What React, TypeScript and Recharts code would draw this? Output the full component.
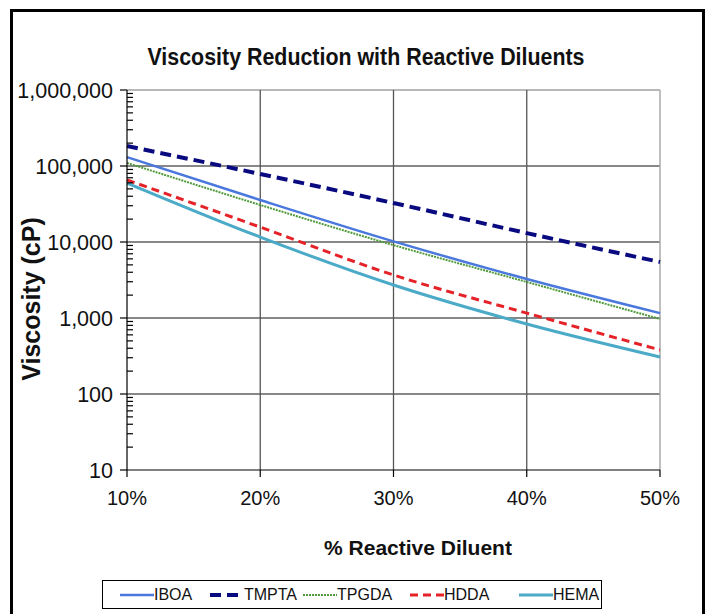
import { LineChart, Line, XAxis, YAxis, ReferenceLine } from 'recharts';

const pcts = [10, 20, 30, 40, 50];
const iboa = [131000, 35700, 10200, 3260, 1160];
const tmpta = [183000, 78500, 32600, 13100, 5460];
const tpgda = [110000, 30700, 9100, 2980, 970];
const hdda = [65500, 15700, 3680, 1160, 380];
const hema = [59700, 11600, 2720, 834, 307];

const decades = [10, 100, 1000, 10000, 100000, 1000000];
const minorSteps = [2, 3, 4, 5, 6, 7, 8, 9];
const xTicks = [10, 20, 30, 40, 50];

const data = pcts.map((p, i) => ({
  pct: p,
  IBOA: iboa[i],
  TMPTA: tmpta[i],
  TPGDA: tpgda[i],
  HDDA: hdda[i],
  HEMA: hema[i],
}));

const yTicks = [
  ...decades,
  ...decades.slice(0, -1).flatMap((d) => minorSteps.map((m) => m * d)),
].sort((a, b) => a - b);

const series = [
  { key: 'IBOA', color: '#4a78dc', width: 2.5, dash: undefined, at: 17 },
  { key: 'TMPTA', color: '#0a0a80', width: 4, dash: '11 6', at: 107 },
  { key: 'TPGDA', color: '#4f9a3a', width: 2, dash: '2 1', at: 200 },
  { key: 'HDDA', color: '#e52228', width: 3, dash: '8 5', at: 307 },
  { key: 'HEMA', color: '#4aaac8', width: 3, dash: undefined, at: 416 },
];

const FONT = "'Liberation Sans', Arial, Helvetica, sans-serif";

const YTick = (props: any) => {
  const { x, y, payload } = props;
  const v = payload.value;
  const isMajor = decades.includes(v);
  if (!isMajor) {
    return <line x1={x} x2={x + 6} y1={y} y2={y} stroke="#000" strokeWidth={1.2} />;
  }
  return (
    <g>
      <line x1={x - 7} x2={x} y1={y} y2={y} stroke="#000" strokeWidth={1.2} />
      <text x={x - 14} y={y} dy="0.36em" textAnchor="end" fontSize={21.5} fill="#111" fontFamily={FONT}>
        {v.toLocaleString('en-US')}
      </text>
    </g>
  );
};

const LegendBox = () => (
  <div
    style={{
      position: 'absolute',
      left: 102,
      top: 580,
      width: 498,
      height: 27,
      border: '1.5px solid #000',
      fontFamily: FONT,
      fontSize: 16,
      color: '#111',
    }}
  >
    {series.map((s) => (
      <div key={s.key} style={{ position: 'absolute', left: s.at, top: 0, height: 27, display: 'flex', alignItems: 'center' }}>
        <svg width={34} height={10}>
          <line x1={0} x2={34} y1={5} y2={5} stroke={s.color} strokeWidth={s.width} strokeDasharray={s.dash} />
        </svg>
        <span>{s.key}</span>
      </div>
    ))}
  </div>
);

export default function App() {
  return (
    <div style={{ position: 'absolute', left: 0, top: 0, width: 707, height: 614, background: '#fff', overflow: 'hidden' }}>
      <div
        style={{
          position: 'absolute',
          left: 10,
          top: 9,
          width: 689,
          height: 640,
          border: '3px solid #000',
        }}
      />
      <div
        style={{
          position: 'absolute',
          left: 366,
          top: 57,
          transform: 'translate(-50%, -50%) scaleX(0.93)',
          whiteSpace: 'nowrap',
          fontFamily: FONT,
          fontWeight: 'bold',
          fontSize: 23,
          color: '#111',
        }}
      >
        Viscosity Reduction with Reactive Diluents
      </div>
      <div style={{ position: 'absolute', left: 0, top: 0 }}>
        <LineChart width={707} height={614} data={data} margin={{ top: 90, right: 47, bottom: 104, left: 67 }}>
          <XAxis
            dataKey="pct"
            type="number"
            domain={[10, 50]}
            ticks={xTicks}
            interval={0}
            height={40}
            tickSize={7}
            tickMargin={14}
            tickFormatter={(v: number) => `${v}%`}
            tick={{ fontSize: 20, fill: '#111', fontFamily: FONT }}
            axisLine={{ stroke: '#000', strokeWidth: 1.2 }}
            tickLine={{ stroke: '#000', strokeWidth: 1.2 }}
          />
          <YAxis
            type="number"
            scale="log"
            domain={[10, 1000000]}
            ticks={yTicks}
            interval={0}
            width={60}
            tickSize={0}
            tickMargin={0}
            tickLine={false}
            tick={<YTick />}
            axisLine={{ stroke: '#000', strokeWidth: 1.2 }}
            allowDataOverflow
          />
          {decades.slice(1, -1).map((d) => (
            <ReferenceLine key={`h${d}`} y={d} stroke="#111" strokeWidth={1.2} />
          ))}
          <ReferenceLine y={1000000} stroke="#a0a0a0" strokeWidth={1.5} />
          {xTicks.slice(1, -1).map((t) => (
            <ReferenceLine key={`v${t}`} x={t} stroke="#555" strokeWidth={1.3} />
          ))}
          <ReferenceLine x={50} stroke="#aaa" strokeWidth={1.5} />
          {series.map((s) => (
            <Line
              key={s.key}
              dataKey={s.key}
              type="monotone"
              stroke={s.color}
              strokeWidth={s.width}
              strokeDasharray={s.dash}
              dot={false}
              activeDot={false}
              isAnimationActive={false}
            />
          ))}
        </LineChart>
      </div>
      <div
        style={{
          position: 'absolute',
          left: 31,
          top: 299,
          transform: 'translate(-50%, -50%) rotate(-90deg)',
          whiteSpace: 'nowrap',
          fontFamily: FONT,
          fontWeight: 'bold',
          fontSize: 25,
          color: '#111',
        }}
      >
        Viscosity (cP)
      </div>
      <div
        style={{
          position: 'absolute',
          left: 418,
          top: 548,
          transform: 'translate(-50%, -50%)',
          whiteSpace: 'nowrap',
          fontFamily: FONT,
          fontWeight: 'bold',
          fontSize: 21,
          color: '#111',
        }}
      >
        % Reactive Diluent
      </div>
      <LegendBox />
    </div>
  );
}
